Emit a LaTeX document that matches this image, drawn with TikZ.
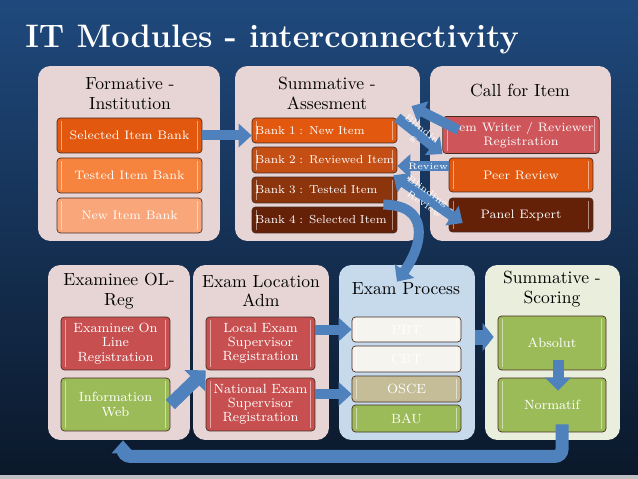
\documentclass[tikz,border=0pt]{standalone}
\usetikzlibrary{arrows.meta,calc}
\definecolor{bgtop}{RGB}{31,73,125}
\definecolor{bgmid}{RGB}{21,52,95}
\definecolor{bgbot}{RGB}{11,24,42}
\definecolor{stripgray}{RGB}{190,192,196}
\definecolor{panelpink}{RGB}{231,213,213}
\definecolor{panelblue}{RGB}{198,218,236}
\definecolor{panelgreen}{RGB}{234,238,221}
\definecolor{itemline}{RGB}{70,45,35}
\definecolor{orangeA}{RGB}{226,88,14}
\definecolor{orangeB}{RGB}{246,131,62}
\definecolor{orangeC}{RGB}{249,166,122}
\definecolor{orangeD}{RGB}{196,78,20}
\definecolor{brownA}{RGB}{140,52,12}
\definecolor{brownB}{RGB}{100,33,8}
\definecolor{rose}{RGB}{206,86,90}
\definecolor{redbox}{RGB}{199,79,79}
\definecolor{greenbox}{RGB}{155,187,89}
\definecolor{khaki}{RGB}{196,189,151}
\definecolor{offwhite}{RGB}{246,244,239}
\definecolor{arrowblue}{RGB}{79,129,189}
\begin{document}
\begin{tikzpicture}[
		x=0.02cm, y=-0.02cm,
		panel/.style={fill=panelpink, rounded corners=7pt, minimum height=3.5cm},
		ptitle/.style={align=center, font=\fontsize{10}{11}\selectfont},
		bevel/.style={path picture={\draw[white, opacity=.5, line width=0.6pt]
				([xshift=2.5pt,yshift=-1.5pt]path picture bounding box.north west) -- ([xshift=2.5pt,yshift=1.5pt]path picture bounding box.south west)
				([xshift=-2.5pt,yshift=-1.5pt]path picture bounding box.north east) -- ([xshift=-2.5pt,yshift=1.5pt]path picture bounding box.south east);}},
		item/.style={draw=itemline, rounded corners=2pt, text=white, bevel},
		smallitem/.style={item, font=\fontsize{7}{7.8}\selectfont, minimum width=2.9cm},
		bankitem/.style={smallitem, font=\fontsize{6.6}{7.6}\selectfont, minimum height=0.52cm, text width=2.78cm, inner xsep=0.06cm, align=left},
		bigitem/.style={item, font=\fontsize{7.6}{8.1}\selectfont, align=center, minimum width=2.18cm, minimum height=1.06cm},
		blockarrow/.style={draw=arrowblue, line width=0.2cm, -{Triangle[width=0.46cm,length=0.26cm]}},
		arrowtext/.style={text=white, font=\fontsize{5.3}{7}\selectfont, align=center, inner sep=0.5pt}
	]
	\useasboundingbox (0,0) rectangle (638,479);
	\shade[top color=bgtop, middle color=bgmid, bottom color=bgbot] (0,0) rectangle (638,475);
	\fill[stripgray] (0,475) rectangle (638,479);

	\node[anchor=base west, text=white, inner sep=0pt, font=\bfseries\fontsize{18.5}{20}\selectfont] (title) at (25,48) {IT Modules - interconnectivity};

	\node[panel, minimum width=3.64cm] (forma) at (129,153.5) {};
	\node[panel, minimum width=3.7cm] (summa) at (327.5,153.5) {};
	\node[panel, minimum width=3.62cm] (call) at (520.5,153.5) {};
	\node[panel, minimum width=2.84cm] (examinee) at (119,352.5) {};
	\node[panel, minimum width=2.72cm] (location) at (261,352.5) {};
	\node[panel, minimum width=2.72cm, fill=panelblue] (process) at (407,352.5) {};
	\node[panel, minimum width=2.7cm, fill=panelgreen] (scoring) at (552.5,352.5) {};

	\node[ptitle] (formaT) at (130,93.5) {Formative -\\Institution};
	\node[ptitle] (summaT) at (327,93.5) {Summative -\\Assesment};
	\node[ptitle] (callT) at (520,91) {Call for Item};
	\node[ptitle] (examineeT) at (119,291) {Examinee OL-\\Reg};
	\node[ptitle] (locationT) at (261,291) {Exam Location\\Adm};
	\node[ptitle] (processT) at (406,289) {Exam Process};
	\node[ptitle] (scoringT) at (552,289) {Summative -\\Scoring};

	\node[smallitem, fill=orangeA, minimum height=0.7cm] (selected) at (129.5,135.5) {Selected Item Bank};
	\node[smallitem, fill=orangeB, minimum height=0.7cm] (tested) at (129.5,175.5) {Tested Item Bank};
	\node[smallitem, fill=orangeC, minimum height=0.7cm] (newbank) at (129.5,215.5) {New Item Bank};

	\node[bankitem, fill=orangeA, minimum height=0.5cm] (bank1) at (324.5,130.5) {\mbox{Bank 1 : New Item}};
	\node[bankitem, fill=orangeD] (bank2) at (324.5,160) {\mbox{Bank 2 : Reviewed Item}};
	\node[bankitem, fill=brownA] (bank3) at (324.5,190) {\mbox{Bank 3 : Tested Item}};
	\node[bankitem, fill=brownB] (bank4) at (324.5,220) {\mbox{Bank 4 : Selected Item}};

	\node[smallitem, fill=rose, minimum width=2.88cm, minimum height=0.68cm, align=center] (writer) at (521,135) {Item Writer / Reviewer\\Registration};
	\node[smallitem, fill=orangeA, minimum width=2.88cm, minimum height=0.68cm] (peer) at (521,175) {Peer Review};
	\node[smallitem, fill=brownB, minimum width=2.88cm, minimum height=0.68cm] (expert) at (521,215) {Panel Expert};

	\node[bigitem, fill=redbox] (online) at (115.5,343.5) {Examinee On\\Line\\Registration};
	\node[bigitem, fill=greenbox] (infoweb) at (115.5,404.5) {Information\\Web};
	\node[bigitem, fill=redbox] (localsup) at (260.5,343.5) {Local Exam\\Supervisor\\Registration};
	\node[bigitem, fill=redbox] (natsup) at (260.5,404.5) {National Exam\\Supervisor\\Registration};
	\node[bigitem, fill=offwhite, minimum height=0.5cm] (pbt) at (406.5,329.5) {PBT};
	\node[bigitem, fill=offwhite, minimum height=0.52cm] (cbt) at (406.5,359) {CBT};
	\node[bigitem, fill=khaki, minimum height=0.52cm] (osce) at (406.5,389) {OSCE};
	\node[bigitem, fill=greenbox, minimum height=0.54cm] (bau) at (406.5,418.5) {BAU};
	\node[bigitem, fill=greenbox, minimum width=2.16cm, minimum height=1.08cm] (absolut) at (552,343) {Absolut};
	\node[bigitem, fill=greenbox, minimum width=2.16cm, minimum height=1.08cm] (normatif) at (552,405) {Normatif};

	\draw[blockarrow] (selected.east) -- (bank1.west |- selected.east);
	\draw[blockarrow] ($(writer.west)+(16,-5)$) -- ($(writer.north west)+(-31,-10)$);
	\draw[blockarrow] (bank1.north east) -- node[arrowtext, sloped, pos=0.45] {Blindin\\g} (writer.south west);
	\draw[blockarrow] (peer.west |- 0,166) -- node[arrowtext, pos=0.4] {Review} (bank2.east |- 0,166);
	\draw[blockarrow, {Triangle[width=0.46cm,length=0.26cm]}-{Triangle[width=0.46cm,length=0.26cm]}] ($(bank2.south east)+(-4,2)$) -- node[arrowtext, sloped, pos=0.5] {Blinding -\\Review} ($(expert.west)+(14,8)$);
	\draw[blockarrow] ($(bank4.north east)+(-14,-2)$) .. controls +(45,0) and +(28,-40) .. ($(process.north)+(-10,17)$);
	\draw[blockarrow, line width=0.26cm, -{Triangle[width=0.58cm,length=0.3cm]}] (infoweb.east) -- (localsup.south west);
	\draw[blockarrow] (localsup.east |- pbt.west) -- (pbt.west);
	\draw[blockarrow] (natsup.east |- 0,394) -- (osce.west |- 0,394);
	\draw[blockarrow, line width=0.3cm, -{Triangle[width=0.55cm,length=0.22cm]}] (process.east |- 0,337) -- ($(scoring.west |- 0,337)+(9,0)$);
	\draw[blockarrow, line width=0.22cm, -{Triangle[width=0.5cm,length=0.26cm]}] ($(absolut.south)+(6,-10)$) -- ($(normatif.north)+(6,13)$);
	\draw[blockarrow, line width=0.26cm, rounded corners=4pt, -{Triangle[width=0.44cm,length=0.26cm]}] ($(normatif.south)+(10,-8)$) |- ($(examinee.south)+(4,16)$) -- ($(examinee.south)+(4,0)$);
\end{tikzpicture}
\end{document}
